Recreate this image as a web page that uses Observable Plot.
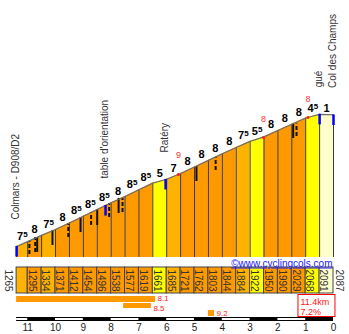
<!DOCTYPE html>
<html><head><meta charset="utf-8">
<script src="https://cdn.jsdelivr.net/npm/d3@7"></script>
<script src="https://cdn.jsdelivr.net/npm/@observablehq/plot@0.6"></script>
<style>
html,body{margin:0;padding:0;background:#fff;}
#chart{width:349px;height:334px;overflow:hidden;font-family:"Liberation Sans",Arial,sans-serif;}
#chart svg{display:block;}
</style></head><body><div id="chart"></div>
<script>
// ---- data ----
const kmPoints   = [11.4, 11.0, 10.5, 10.0, 9.5, 9.0, 8.5, 8.0, 7.5, 7.0, 6.5, 6.0, 5.5, 5.0, 4.5, 4.0, 3.5, 3.0, 2.5, 2.0, 1.5, 1.0, 0.5, 0.0];
const altitudes  = [1265, 1295, 1334, 1371, 1412, 1454, 1496, 1538, 1577, 1619, 1661, 1685, 1721, 1762, 1803, 1844, 1884, 1922, 1950, 1990, 2029, 2068, 2091, 2087];
const gradeLabels = [7.5, 8, 7.5, 8, 8.5, 8.5, 8.5, 8, 8.5, 8.5, 5, 7, 8, 8, 8, 8, 7.5, 5.5, 8, 8, 8, 4.5, 1];

const placeNames = ["Colmars - D908/D2", "table d'orientation", "Ratéry", "gué", "Col des Champs"];
const placeKm    = [11.4, 8.2, 6.04, 0.5, 0];
const placeAlt   = [1265, 1521, 1684, 2091, 2087];

const peakValues = [9, 8, 8];
const peakKm     = [5.58, 2.52, 0.92];
const peakAlt    = [1715, 1946, 2071];

const steepKm     = [10.94, 10.73, 10.66, 10.11, 9.54, 9.10, 8.72, 8.50, 8.07, 7.73, 7.59, 4.93, 4.24, 1.45, 1.33];
const steepTop    = [1297, 1321, 1321, 1365, 1409, 1446, 1477, 1496, 1534, 1565, 1565, 1765, 1821, 2030, 2030];
const steepBottom = [1215, 1228, 1228, 1271, 1321, 1352, 1396, 1396, 1446, 1471, 1477, 1671, 1740, 1940, 1952];
const steepDashed = [true, true, false, false, true, false, true, false, true, false, true, false, true, false, true];

const steepestPct  = [8.1, 8.5, 9.2];
const steepestFrom = [11.4, 7.55, 4.5];
const steepestTo   = [6.4, 6.55, 4.28];

const kmTicks = [11, 10, 9, 8, 7, 6, 5, 4, 3, 2, 1, 0];
const totalKm = 11.4;
const avgGrade = 7.2;
const siteText = "©www.cyclingcols.com";

// ---- derived tables ----
const BASE = 1196;
const segs = gradeLabels.map((g, i) => ({i, g, k0: kmPoints[i], k1: kmPoints[i + 1], a0: altitudes[i], a1: altitudes[i + 1]}));
const pts = segs.flatMap(s => [{seg: s.i, g: s.g, km: s.k0, alt: s.a0}, {seg: s.i, g: s.g, km: s.k1, alt: s.a1}]);
const profile = kmPoints.map((k, i) => ({km: k, alt: altitudes[i]}));
const places = placeNames.map((n, i) => ({name: n, km: placeKm[i], alt: placeAlt[i]}));
const peaks = peakValues.map((v, i) => ({v: String(v), km: peakKm[i], alt: peakAlt[i]}));
const steep = steepKm.map((k, i) => ({km: k, top: steepTop[i], bot: steepBottom[i], dashed: steepDashed[i]}));
const gradeData = segs.map(s => ({km: (s.k0 + s.k1) / 2, alt: Math.max(s.a0, s.a1),
  main: String(Math.floor(Math.abs(s.g))), half: Math.abs(s.g) % 1 !== 0}));
const boundaries = profile.map((p, i) => ({...p, i, label: String(p.alt)}));
const steepest = steepestPct.map((p, i) => ({p, from: steepestFrom[i], to: steepestTo[i], row: i}));
const whiteKm = kmTicks.filter(k => k % 2 === 1).map(k => ({a: k, b: Math.min(k + 1, totalKm)}));

const colorScale = {type: "threshold", domain: [3, 6, 7.75], range: ["#FFFFCC", "#FFFF00", "#FFB300", "#FF9900"]};
const xScale = {domain: [totalKm, 0], range: [16.1, 333]};
const font = {fontFamily: "'Liberation Sans', Arial, sans-serif", background: "white", overflow: "visible"};

// ---- profile plot ----
const plotA = Plot.plot({
  width: 349, height: 257, margin: 0,
  x: {...xScale, axis: null},
  y: {domain: [BASE, 2091], range: [257, 113.8], axis: null},
  color: colorScale,
  style: font,
  marks: [
    Plot.areaY(pts, {x: "km", y1: BASE, y2: "alt", z: "seg", fill: "g"}),
    Plot.ruleX(profile, {x: "km", y1: BASE, y2: "alt", stroke: "#3a3a3a", strokeWidth: 1}),
    Plot.ruleX(steep.filter(d => !d.dashed), {x: "km", y1: "bot", y2: "top", stroke: "#111", strokeWidth: 2}),
    Plot.ruleX(steep.filter(d => d.dashed), {x: "km", y1: "bot", y2: "top", stroke: "#111", strokeWidth: 2, strokeDasharray: "4,2"}),
    Plot.line(profile, {x: "km", y: "alt", stroke: "#6e6e6e", strokeWidth: 1.2}),
    Plot.ruleX(places, {x: "km", y1: d => d.alt - 66, y2: "alt", stroke: "#0000FF", strokeWidth: 2.5}),
    Plot.text(places, {x: "km", y: "alt", text: "name", rotate: -90, textAnchor: "start", lineAnchor: "middle",
      dy: -27, dx: -1, fontSize: 10, fill: "#333"}),
    Plot.text(gradeData.filter(d => !d.half), {x: "km", y: "alt", text: "main", dy: -2, lineAnchor: "bottom",
      fontSize: 11, fontWeight: "bold", fill: "#000"}),
    Plot.text(gradeData.filter(d => d.half), {x: "km", y: "alt", text: "main", dy: -2, dx: -2.2, lineAnchor: "bottom",
      fontSize: 11, fontWeight: "bold", fill: "#000"}),
    Plot.text(gradeData.filter(d => d.half), {x: "km", y: "alt", text: () => "5", dy: -5, dx: 3.2, lineAnchor: "bottom",
      fontSize: 8, fontWeight: "bold", fill: "#000"}),
    Plot.dot(peaks, {x: "km", y: "alt", r: 1.5, fill: "#FF2020"}),
    Plot.text(peaks, {x: "km", y: "alt", text: "v", dy: -16, lineAnchor: "bottom", fontSize: 9, fill: "#FF3030"})
  ]
});

// ---- lower panel (altitudes, steepest sections, km scale) ----
const rowY = [[39, 45], [46, 51], [53, 59]];
const rowText = [41, 50.5, 56];
const plotB = Plot.plot({
  width: 349, height: 77, margin: 0,
  x: {...xScale, axis: null},
  y: {domain: [0, 77], range: [0, 77], axis: null},
  color: colorScale,
  style: font,
  marks: [
    Plot.rect(segs, {x1: "k0", x2: "k1", y1: 10, y2: 36, fill: "g", stroke: "#444", strokeWidth: 1}),
    Plot.text(boundaries.filter(d => d.i > 0 && d.i < boundaries.length - 1), {x: "km", y: 23, text: "label", rotate: 90,
      dx: 4, fontSize: 10, fill: "#333", lineAnchor: "middle", textAnchor: "middle"}),
    Plot.text(boundaries.filter(d => d.i === 0), {x: "km", y: 23, text: "label", rotate: 90,
      dx: -8, fontSize: 10, fill: "#333", lineAnchor: "middle", textAnchor: "middle"}),
    Plot.text(boundaries.filter(d => d.i === boundaries.length - 1), {x: "km", y: 23, text: "label", rotate: 90,
      dx: 6, fontSize: 10, fill: "#333", lineAnchor: "middle", textAnchor: "middle"}),
    Plot.text([siteText], {x: 0, y: 9, text: d => d, textAnchor: "end", lineAnchor: "bottom", dx: -1,
      fontSize: 10, fill: "#1a1aff"}),
    Plot.rect(steepest, {x1: "from", x2: "to", y1: d => rowY[d.row][0], y2: d => rowY[d.row][1], fill: "#FF9900"}),
    Plot.text(steepest, {x: "to", y: d => rowText[d.row], text: d => d.p.toFixed(1),
      textAnchor: "start", lineAnchor: "middle", dx: 2, fontSize: 8, fill: "#FF2020"}),
    Plot.rect([0], {x1: totalKm, x2: 0, y1: 60, y2: 64, fill: "#000"}),
    Plot.rect(whiteKm, {x1: "a", x2: "b", y1: 61, y2: 63, fill: "#fff"}),
    Plot.text(kmTicks, {x: d => d, y: 73.5, text: d => String(d), lineAnchor: "bottom", fontSize: 10, fill: "#222"}),
    Plot.rect([0], {x1: 1.26, x2: -0.07, y1: 37.5, y2: 59.5, fill: "none", stroke: "#FF0000", strokeWidth: 1}),
    Plot.text([totalKm], {x: 1.26, y: 47, text: d => d.toFixed(1) + "km", textAnchor: "start", lineAnchor: "bottom",
      dx: 2, fontSize: 9, fill: "#FF2020"}),
    Plot.text([avgGrade], {x: 1.26, y: 57.5, text: d => d.toFixed(1) + "%", textAnchor: "start", lineAnchor: "bottom",
      dx: 2, fontSize: 9, fill: "#FF2020"})
  ]
});
plotB.querySelectorAll("text").forEach(t => { if (t.textContent === siteText) t.style.textDecoration = "underline"; });

const root = document.getElementById("chart");
root.appendChild(plotA);
root.appendChild(plotB);
</script>
</body></html>
